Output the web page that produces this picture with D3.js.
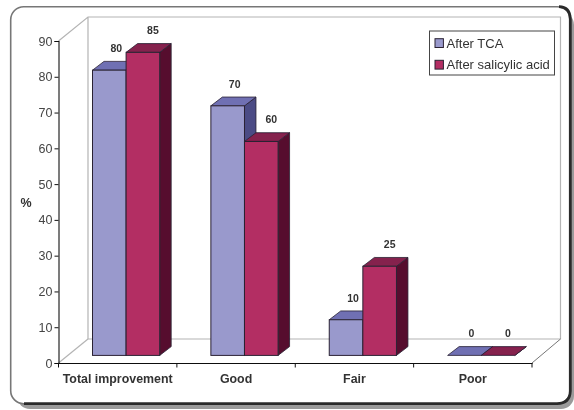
<!DOCTYPE html>
<html><head><meta charset="utf-8">
<script src="https://cdn.jsdelivr.net/npm/d3@7/dist/d3.min.js"></script>
<style>html,body{margin:0;padding:0;background:#fff}svg{display:block}text{font-family:"Liberation Sans",Arial,sans-serif}</style>
</head><body><svg id="c" width="574" height="410"></svg>
<script>
const categories = ["Total improvement","Good","Fair","Poor"];
const seriesNames = ["After TCA","After salicylic acid"];
const afterTCA = [80,70,10,0];
const afterSalicylic = [85,60,25,0];
const yTicks = [0,10,20,30,40,50,60,70,80,90];
const colors = [{front:"#9999cc",top:"#6f6fb3",side:"#4b4b85"},{front:"#b32f63",top:"#85204d",side:"#56102f"}];

const svg = d3.select("#c");
const defs = svg.append("defs");
defs.append("filter").attr("id","soft").append("feGaussianBlur").attr("stdDeviation",0.35);
const root = svg.append("g").attr("filter","url(#soft)");

// frame
root.append("rect").attr("x",17).attr("y",12).attr("width",557).attr("height",397).attr("rx",13)
  .attr("fill","#9a9a9a");
root.append("rect").attr("x",10.7).attr("y",6.7).attr("width",559.6).attr("height",397).attr("rx",13)
  .attr("fill","#fff").attr("stroke","#777").attr("stroke-width",1.6);
root.append("path").attr("d","M559,6.7 Q570,7 570.3,19 V391 Q570,403.4 557,403.7 H24")
  .attr("fill","none").attr("stroke","#2a2a2a").attr("stroke-width",2.8);

const axisX0 = 58.5, axisX1 = 532, axisY0 = 363, axisY90 = 41;
const y = d3.scaleLinear().domain([0,90]).range([axisY0,axisY90]);
const x = d3.scaleBand().domain(categories).range([axisX0,axisX1]);
const depth = {dx:29.5, dy:-24};     // whole floor depth
const barPlane = {dx:0, dy:-7.6};    // bars stand in front of the back wall
const barDepth = {dx:11.5, dy:-8.8};
const barWidth = 33.6, barInset = 34;

// walls
const wall = "#b4b4b4";
root.append("path").attr("fill","none").attr("stroke",wall).attr("stroke-width",1.2)
  .attr("d",`M${axisX0},${axisY90}L${axisX0+depth.dx},${axisY90+depth.dy}H${axisX1+depth.dx-1}V${axisY0+depth.dy}H${axisX0+depth.dx}V${axisY90+depth.dy}`);
root.append("path").attr("fill","none").attr("stroke",wall).attr("stroke-width",1.2)
  .attr("d",`M${axisX0},${axisY0}L${axisX0+depth.dx},${axisY0+depth.dy}`);
root.append("path").attr("fill","none").attr("stroke","#777").attr("stroke-width",1)
  .attr("d",`M${axisX1},${axisY0}L${axisX1+depth.dx-1},${axisY0+depth.dy}`);

// axes
const yAxis = root.append("g").attr("transform",`translate(${axisX0},0)`)
  .call(d3.axisLeft(y).tickValues(yTicks).tickSize(4).tickPadding(2));
const xAxis = root.append("g").attr("transform",`translate(0,${axisY0})`)
  .call(d3.axisBottom(x).tickSize(0).tickPadding(11));
xAxis.selectAll(".tick text").attr("font-size",12.4).attr("font-weight","bold").attr("fill","#333").attr("font-family","Liberation Sans");
xAxis.append("g").selectAll("line").data(categories.concat("end")).join("line")
  .attr("x1",d=>d==="end"?axisX1:x(d)).attr("x2",d=>d==="end"?axisX1:x(d)).attr("y1",0).attr("y2",4.5).attr("stroke","#111");
yAxis.selectAll(".tick text").attr("font-size",12.5).attr("fill","#444").attr("font-family","Liberation Sans");
root.selectAll(".domain").attr("stroke","#111").attr("stroke-width",1.1);
yAxis.selectAll(".tick line").attr("stroke","#111");

// bars
const outline = "#2a2233";
const rows = categories.flatMap((c,i)=>[
  {c,s:0,v:afterTCA[i]},{c,s:1,v:afterSalicylic[i]}]);
const base = y(0)+barPlane.dy;
const h = v => (y(0)-y(v))*0.9965;
const gBars = root.append("g");
rows.forEach(d=>{
  d.x0 = x(d.c)+barInset+d.s*barWidth;
  d.x1 = d.x0+barWidth;
  d.top = base-h(d.v);
});
const g = gBars.selectAll("g").data(rows).join("g");
g.append("path").attr("fill",d=>colors[d.s].side).attr("stroke",outline).attr("stroke-width",.8)
  .attr("d",d=>`M${d.x1},${base}V${d.top}l${barDepth.dx},${barDepth.dy}V${base+barDepth.dy}Z`);
g.append("path").attr("fill",d=>colors[d.s].top).attr("stroke",outline).attr("stroke-width",.8)
  .attr("d",d=>`M${d.x0},${d.top}H${d.x1}l${barDepth.dx},${barDepth.dy}H${d.x0+barDepth.dx}Z`);
g.append("rect").attr("x",d=>d.x0).attr("y",d=>d.top).attr("width",barWidth).attr("height",d=>base-d.top)
  .attr("fill",d=>colors[d.s].front).attr("stroke",outline).attr("stroke-width",1);

// value labels
root.append("g").selectAll("text").data(rows).join("text")
  .attr("x",d=>d.x0+barWidth/2+(d.s?10:7)).attr("y",d=>d.top-18)
  .attr("text-anchor","middle").attr("font-size",10.5).attr("font-weight","bold").attr("fill","#333")
  .text(d=>d.v);

// y title
root.append("text").attr("x",26).attr("y",207).attr("text-anchor","middle")
  .attr("font-size",12.5).attr("font-weight","bold").attr("fill","#333").text("%");

// legend
const lg = root.append("g");
lg.append("rect").attr("x",429.5).attr("y",31).attr("width",125).attr("height",44)
  .attr("fill","#fff").attr("stroke","#444").attr("stroke-width",1);
seriesNames.forEach((n,i)=>{
  const ly = 43.2+i*21.6;
  lg.append("rect").attr("x",435).attr("y",ly-4.5).attr("width",8.4).attr("height",8.8)
    .attr("fill",colors[i].front).attr("stroke",outline).attr("stroke-width",1);
  lg.append("text").attr("x",446.5).attr("y",ly+4.6).attr("font-size",13).attr("fill","#333").text(n);
});
</script></body></html>
